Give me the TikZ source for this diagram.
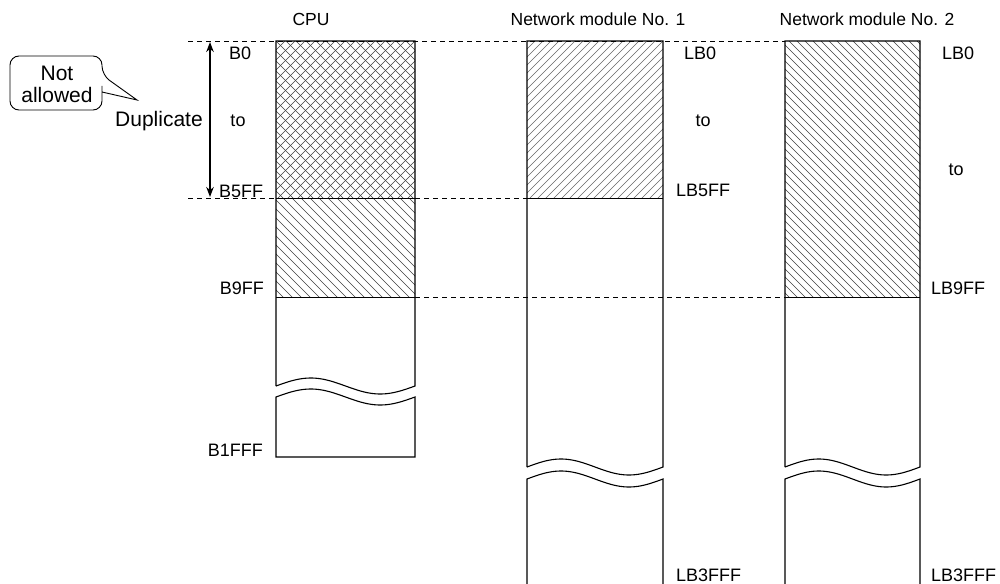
\documentclass[tikz,border=0pt]{standalone}
\usepackage{fontspec}
\setmainfont{Liberation Sans}
\usetikzlibrary{arrows.meta}
\begin{document}
\begin{tikzpicture}[x=1pt,y=-1pt,
  lbl/.style={font=\fontsize{18}{20}\selectfont, inner sep=0pt},
  ttl/.style={font=\fontsize{17.5}{20}\selectfont, inner sep=0pt},
  big/.style={font=\fontsize{21}{23}\selectfont, inner sep=0pt},
  boxline/.style={line width=1.1pt, line join=miter},
  sepline/.style={line width=0.8pt},
  hatch/.style={line width=0.5pt, black!75},
  dashline/.style={line width=0.9pt, dash pattern=on 5pt off 4pt}]
\useasboundingbox (0,0) rectangle (1000,583);

% ---------- hatching ----------
% CPU B0-B5FF : cross hatch
\begin{scope}
\clip (276,41) rectangle (415,198);
\foreach \i in {-160,-150,...,150} {
  \draw[hatch] (276+\i,41) -- ++(160,160);
  \draw[hatch] (415-\i,41) -- ++(-160,160);
}
\end{scope}
% CPU B600-B9FF
\begin{scope}
\clip (276,198) rectangle (415,297);
\foreach \i in {-110,-101,...,140} {
  \draw[hatch] (276+\i,198) -- ++(110,110);
}
\end{scope}
% Module 1 LB0-LB5FF
\begin{scope}
\clip (527,41) rectangle (663,198);
\foreach \i in {-160,-152,...,140} {
  \draw[hatch,black!60] (663-\i,41) -- ++(-160,160);
}
\end{scope}
% Module 2 LB0-LB9FF
\begin{scope}
\clip (785,41) rectangle (920,297);
\foreach \i in {-260,-252,...,140} {
  \draw[hatch] (785+\i,41) -- ++(260,260);
}
\end{scope}

% ---------- dashed guide lines ----------
\draw[dashline] (188,41) -- (785,41);
\draw[dashline] (188,198) -- (276,198);
\draw[dashline] (415,198) -- (527,198);
\draw[dashline] (415,297) -- (785,297);

% ---------- CPU column ----------
\draw[boxline] (276,386) -- (276,41) -- (415,41) -- (415,386)
  -- plot[domain=1:0,samples=50] ({276+139*\x},{386-8*sin(360*\x)});
\draw[boxline] plot[domain=0:1,samples=50] ({276+139*\x},{397-8*sin(360*\x)})
  -- (415,457) -- (276,457) -- cycle;
\draw[sepline] (276,198) -- (415,198);
\draw[sepline] (276,297) -- (415,297);

% ---------- Network module No. 1 ----------
\draw[boxline] (527,467) -- (527,41) -- (663,41) -- (663,467)
  -- plot[domain=1:0,samples=50] ({527+136*\x},{467-8*sin(360*\x)});
\draw[boxline] (527,590) -- plot[domain=0:1,samples=50] ({527+136*\x},{479-8*sin(360*\x)})
  -- (663,590);
\draw[sepline] (527,198) -- (663,198);

% ---------- Network module No. 2 ----------
\draw[boxline] (785,467) -- (785,41) -- (920,41) -- (920,467)
  -- plot[domain=1:0,samples=50] ({785+135*\x},{467-8*sin(360*\x)});
\draw[boxline] (785,590) -- plot[domain=0:1,samples=50] ({785+135*\x},{479-8*sin(360*\x)})
  -- (920,590);
\draw[sepline] (785,297) -- (920,297);

% ---------- titles ----------
\node[ttl] (tcpu) at (311,19) {CPU};
\node[ttl] (tnm1) at (598,19) {Network module No. 1};
\node[ttl] (tnm2) at (867,19) {Network module No. 2};

% ---------- CPU labels ----------
\node[lbl,anchor=west] (b0) at (229,53) {B0};
\node[lbl] (cto) at (238,121) {to};
\node[lbl,anchor=west] (b5ff) at (219,191) {B5FF};
\node[lbl,anchor=east] (b9ff) at (264,288) {B9FF};
\node[lbl,anchor=east] (b1fff) at (263,450) {B1FFF};

% ---------- module labels ----------
\node[lbl,anchor=west] (lb0a) at (684,53) {LB0};
\node[lbl] (toa) at (703,121) {to};
\node[lbl,anchor=west] (lb5ff) at (676,190) {LB5FF};
\node[lbl,anchor=west] (lb3fffa) at (676,575) {LB3FFF};

\node[lbl,anchor=west] (lb0b) at (942,53) {LB0};
\node[lbl] (tob) at (956,170) {to};
\node[lbl,anchor=west] (lb9ff) at (931,288) {LB9FF};
\node[lbl,anchor=west] (lb3fffb) at (931,575) {LB3FFF};

% ---------- duplicate arrow ----------
\coordinate (atop) at (210,42);
\coordinate (abot) at (210,197);
\draw[line width=1.8pt, {Stealth[length=10pt,width=7.5pt]}-{Stealth[length=10pt,width=7.5pt]}] (atop) -- (abot);
\node[big] (dup) at (159,121) {Duplicate};

% ---------- callout ----------
\draw[line width=0.9pt, rounded corners=9pt]
  (102,86) -- (102,110) -- (10,110) -- (10,56) -- (102,56) -- (102,75)
  [sharp corners] -- (137,100) -- (102,92) -- (102,86);
\node[big] (nota) at (57,73) {Not};
\node[big] (allw) at (57,95) {allowed};
\end{tikzpicture}
\end{document}
